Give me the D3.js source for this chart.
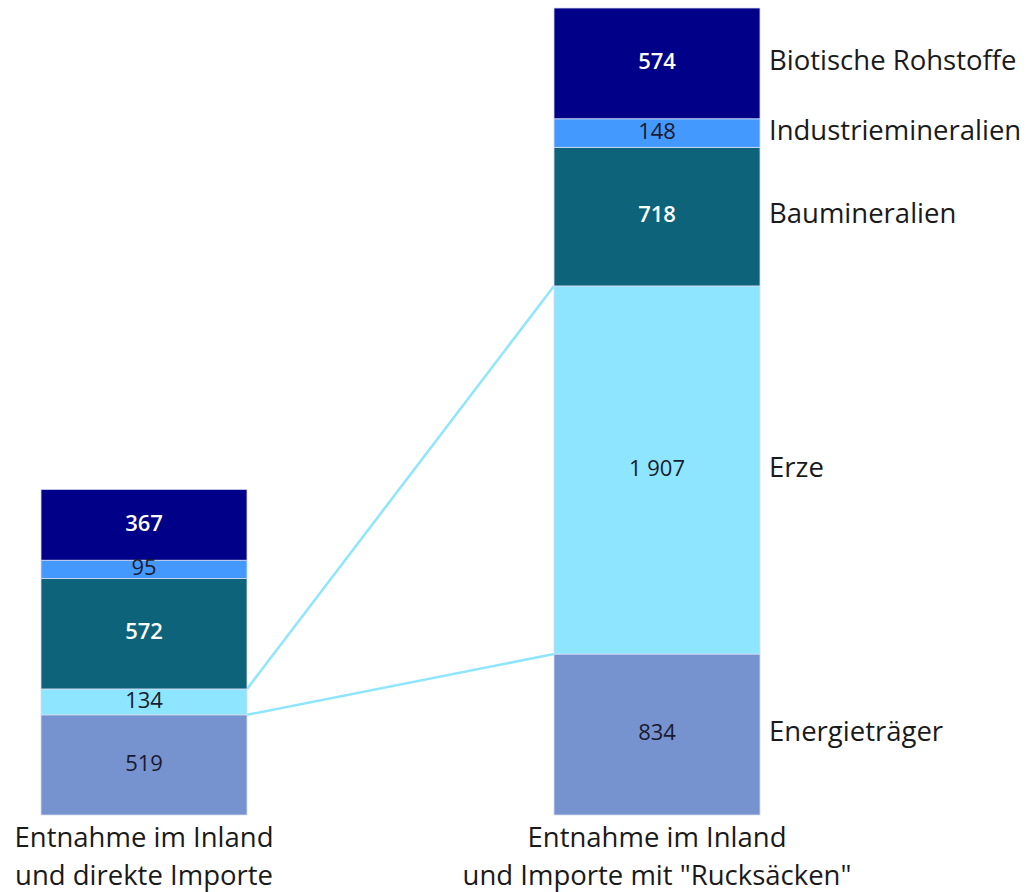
<!DOCTYPE html>
<html>
<head>
<meta charset="utf-8">
<script src="https://cdn.jsdelivr.net/npm/d3@7"></script>
<style>
  body { margin: 0; background: #fff; }
  text { font-family: "Open Sans", "Noto Sans", sans-serif; }
</style>
</head>
<body>
<script>
// Daten (Mio. t), von unten nach oben gestapelt
var kategorien = ["Energieträger", "Erze", "Baumineralien", "Industriemineralien", "Biotische Rohstoffe"];
var balken     = ["Entnahme im Inland|und direkte Importe", "Entnahme im Inland|und Importe mit \"Rucksäcken\""];
var werteDirekt    = [519, 134, 572, 95, 367];
var werteRucksack  = [834, 1907, 718, 148, 574];
var farben     = ["#7693d0", "#8ee5ff", "#0d647a", "#4499ff", "#000088"];
var textFarben = ["#1a1a2e", "#1a1a2e", "#ffffff", "#1a1a2e", "#ffffff"];

var svgW = 1031;
var svgH = 892;

var svg = d3.select("body").append("svg")
            .attr("width", svgW)
            .attr("height", svgH);

// zwei Balken 206 px breit, 307 px Abstand
var xScale = d3.scaleBand()
               .domain(balken)
               .range([41 - 307 * 0.5, 760 + 307 * 0.5])
               .paddingInner(307 / 513)
               .paddingOuter(0.5 * 307 / 513);

var gesamtMax = d3.sum(werteRucksack);
var yScale = d3.scaleLinear()
               .domain([0, gesamtMax])
               .range([815, 8]);

var reihen = [werteDirekt, werteRucksack];

// gestapelte Segmente berechnen
var segmente = reihen.map(function(werte, bi) {
    var acc = 0;
    return werte.map(function(v, i) {
        var s = { balken: balken[bi], kat: i, y0: acc, y1: acc + v, wert: v };
        acc += v;
        return s;
    });
});

// Verbindungslinien für Erze
var li = segmente[0][1], re = segmente[1][1];
var xl = xScale(balken[0]) + xScale.bandwidth();
var xr = xScale(balken[1]);
["y1", "y0"].forEach(function(k) {
    svg.append("line")
       .attr("x1", xl).attr("y1", yScale(li[k]))
       .attr("x2", xr).attr("y2", yScale(re[k]))
       .attr("stroke", "#8ee5ff")
       .attr("stroke-width", 2.5);
});

var gruppe = svg.selectAll("g.balken")
                .data(segmente)
                .enter()
                .append("g")
                .attr("class", "balken");

gruppe.selectAll("rect")
      .data(function(d) { return d; })
      .enter()
      .append("rect")
      .attr("x", function(d) { return xScale(d.balken); })
      .attr("y", function(d) { return yScale(d.y1); })
      .attr("width", xScale.bandwidth())
      .attr("height", function(d) { return yScale(d.y0) - yScale(d.y1); })
      .attr("fill", function(d) { return farben[d.kat]; })
      .attr("stroke", "#d6dcf2")
      .attr("stroke-width", 0.8);

gruppe.selectAll("text.wert")
      .data(function(d) { return d; })
      .enter()
      .append("text")
      .attr("class", "wert")
      .attr("x", function(d) { return xScale(d.balken) + xScale.bandwidth() / 2; })
      .attr("y", function(d) { return (yScale(d.y0) + yScale(d.y1)) / 2 - 2; })
      .attr("dy", "0.35em")
      .attr("text-anchor", "middle")
      .attr("font-size", 22)
      .attr("font-weight", function(d) { return textFarben[d.kat] == "#ffffff" ? 600 : "normal"; })
      .attr("fill", function(d) { return textFarben[d.kat]; })
      .text(function(d) { return d3.format(",")(d.wert).replace(",", " "); });

// Kategorienamen rechts
svg.selectAll("text.kat")
   .data(segmente[1])
   .enter()
   .append("text")
   .attr("class", "kat")
   .attr("x", xScale(balken[1]) + xScale.bandwidth() + 9)
   .attr("y", function(d) { return (yScale(d.y0) + yScale(d.y1)) / 2 - 3; })
   .attr("dy", "0.35em")
   .attr("font-size", 27.5)
   .attr("fill", "#1a1a1a")
   .text(function(d) { return kategorien[d.kat]; });

// Achsenbeschriftung
var xAxis = d3.axisBottom(xScale).tickSize(0).tickFormat("");
var achse = svg.append("g")
               .attr("transform", "translate(0,815)")
               .call(xAxis);
achse.select(".domain").remove();
achse.selectAll(".tick").each(function(d) {
    var t = d3.select(this).append("text")
              .attr("text-anchor", "middle")
              .attr("font-size", 27.5)
              .attr("fill", "#1a1a1a");
    d.split("|").forEach(function(zeile, i) {
        t.append("tspan").attr("x", 0).attr("y", 32 + i * 38).text(zeile);
    });
});
</script>
</body>
</html>
